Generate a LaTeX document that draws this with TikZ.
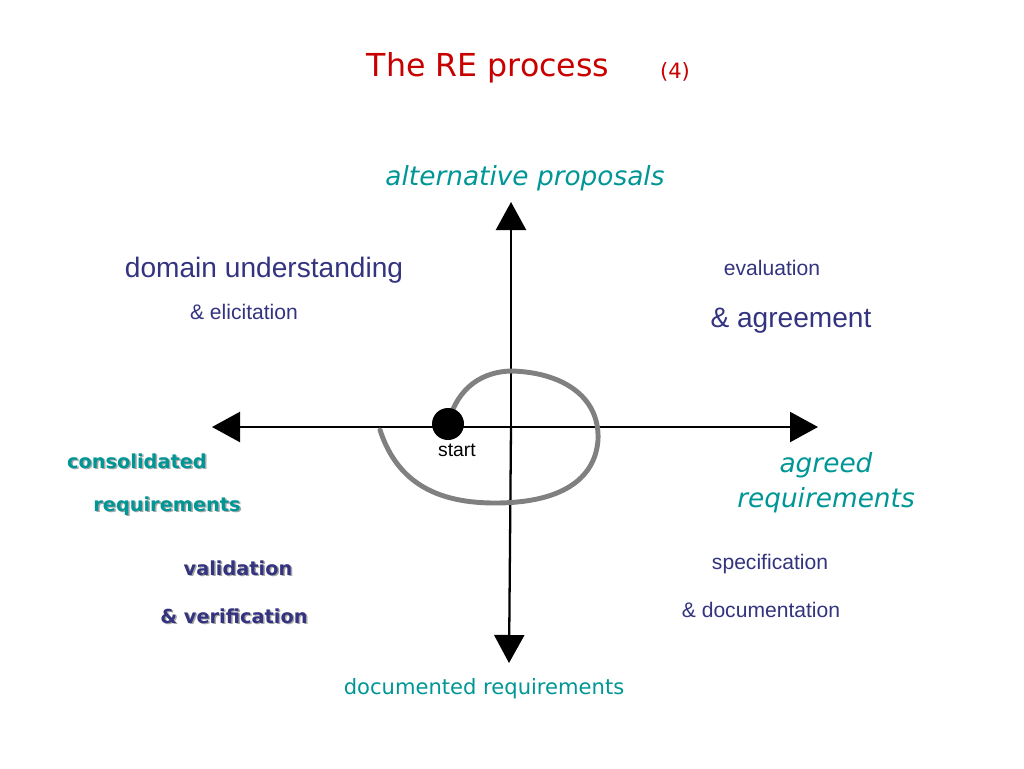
\documentclass[tikz,border=0pt]{standalone}
\usepackage{fontspec}
\setmainfont{Liberation Sans}
\newfontfamily\comic{DejaVu Sans}
\usetikzlibrary{arrows.meta}
\definecolor{navy}{RGB}{51,51,128}
\definecolor{tealx}{RGB}{0,150,150}
\definecolor{redx}{RGB}{200,0,0}
\begin{document}
\begin{tikzpicture}[x=0.02cm,y=-0.02cm,
  axis/.style={line width=1.3pt,-{Triangle[length=28*0.02cm,width=30*0.02cm]}},
  navytxt/.style={text=navy,font=\fontsize{12}{14}\selectfont},
  bignavy/.style={text=navy,font=\fontsize{16}{19}\selectfont},
  tealit/.style={text=tealx,font=\comic\itshape\fontsize{15}{18}\selectfont},
  shadowtxt/.style={font=\comic\bfseries\fontsize{11}{13}\selectfont}]
\path[use as bounding box] (0,0) rectangle (1024,768);
\node (title) [text=redx,font=\comic\fontsize{18}{22}\selectfont] at (488,68) {The RE process};
\node (num) [text=redx,font=\comic\fontsize{12}{14}\selectfont] at (675,72) {(4)};
\coordinate (c) at (511,427);
\coordinate (l) at (212,427);
\coordinate (r) at (818,427);
\coordinate (t) at (511,202);
\coordinate (b) at (509,663);
\draw[axis] (c) -- (l);
\draw[axis] (c) -- (r);
\draw[axis] (c) -- (t);
\draw[axis] (c) -- (b);
\draw[gray,line width=2.8pt,line cap=round] (448,424) .. controls (455,395) and (475,372) .. (511,371)
  .. controls (560,372) and (600,395) .. (598,440)
  .. controls (595,480) and (560,503) .. (495,503)
  .. controls (440,503) and (398,485) .. (380,430);
\node (dot) [circle,fill=black,minimum size=32*0.02cm,inner sep=0] at (448,424) {};
\node (start) [font=\rmfamily\fontsize{11}{13}\selectfont] at (457,450) {start};
\node (alt) [tealit] at (525,178) {alternative proposals};
\node (agr) [tealit,align=center] at (826,483) {agreed\\[2pt]requirements};
\node (doc) [text=tealx,font=\comic\fontsize{12}{14}\selectfont] at (484,689) {documented requirements};
\node (du) [bignavy] at (264,270) {domain understanding};
\node (el) [navytxt] at (244,312) {\& elicitation};
\node (ev) [navytxt] at (772,268) {evaluation};
\node (ag) [bignavy] at (791,321) {\& agreement};
\node (sp) [navytxt] at (770,564) {specification};
\node (dc) [navytxt] at (761,610) {\& documentation};
\foreach \n/\x/\y/\t/\c in {cons/137/461/consolidated/tealx, req/167/506/requirements/tealx, val/238/568/validation/navy, ver/234/616/\& verification/navy}{
  \node[shadowtxt,text=gray!70] at (\x+1.5,\y+1.5) {\t};
  \node (\n) [shadowtxt,text=\c] at (\x,\y) {\t};
}
\end{tikzpicture}
\end{document}
